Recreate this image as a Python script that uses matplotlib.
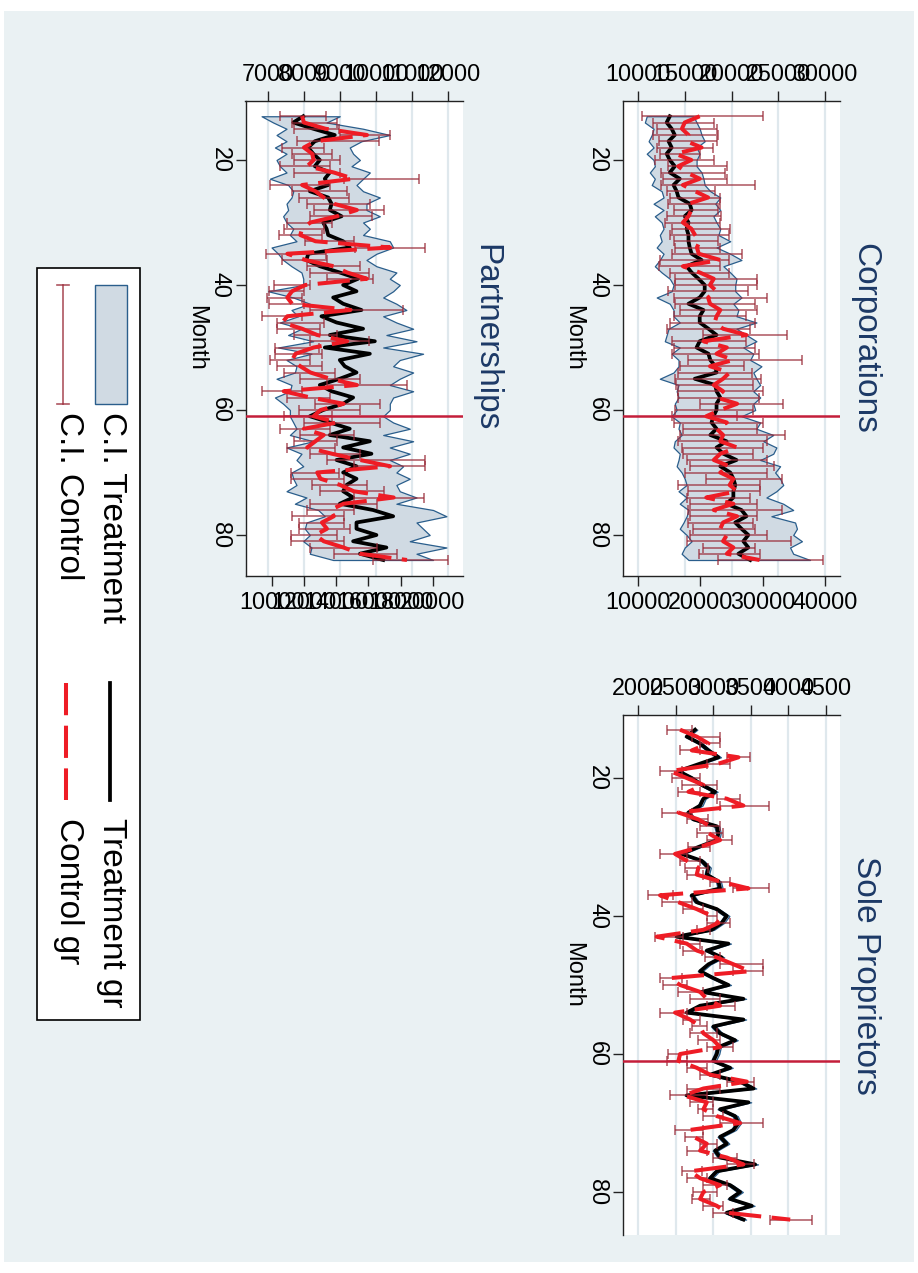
import numpy as np
import matplotlib
matplotlib.use('Agg')
import matplotlib.pyplot as plt
from matplotlib.patches import Rectangle
from matplotlib.lines import Line2D

plt.rcParams['font.family'] = ['Liberation Sans', 'DejaVu Sans']

# ---------------- data ----------------
months = list(range(13, 85))
month_ticks = [20, 40, 60, 80]
policy_month = 61

# Corporations (treatment on lower axis, control on upper axis), thousands
corp_t_k = [15.1,14.6,15.4,15.9,14.9,15.4,14.6,15.1,15.9,15.1,
            16.7,15.7,16.2,16.5,18.3,18.6,17.5,18.1,17.8,18.1,
            18.1,18.3,18.6,20.2,17.8,18.6,19.7,20.7,20.7,19.9,
            18.1,20.5,19.9,19.9,21.3,22.6,19.9,19.4,21.3,21.6,
            22.4,22.6,19.1,22.4,22.6,23.2,22.6,22.6,22.1,21.8,
            22.6,21.6,24.2,22.6,23.7,25.8,23.2,24.8,25.3,25.6,
            25.3,25.3,24.2,26.6,27.4,25.6,26.6,27.7,26.9,27.7,26.1,28.0]
corp_lo_k = [11.4,11.1,12.5,12.2,11.7,12.5,11.4,12.5,12.7,11.9,
             12.7,12.2,13.8,14.1,12.5,14.1,12.7,13.8,14.1,13.5,
             13.8,13.0,14.1,13.5,12.7,13.8,15.1,15.7,15.4,13.0,
             15.1,15.7,15.7,16.7,14.9,14.6,14.3,16.7,15.4,16.5,
             16.5,15.7,13.5,16.5,16.2,16.5,15.9,16.2,15.4,16.7,
             16.5,17.0,15.9,15.7,16.7,16.5,16.2,17.0,17.5,17.8,
             16.5,17.8,16.7,18.1,17.8,17.3,16.7,17.8,18.6,17.5,17.0,18.1]
corp_hi_k = [18.9,19.4,19.9,20.2,20.7,19.4,19.9,19.4,19.4,20.2,
             20.5,20.7,21.6,23.2,22.4,23.2,22.1,22.6,23.2,22.9,
             24.8,22.6,24.8,26.6,23.7,24.8,25.8,25.6,25.6,26.6,
             25.3,26.1,25.8,29.0,25.8,27.4,29.0,26.9,28.5,28.0,
             29.8,28.5,29.0,29.6,28.5,29.6,28.5,28.8,26.6,29.6,
             29.0,31.7,30.1,32.2,31.7,29.6,32.8,32.0,32.8,33.3,
             32.2,30.6,33.3,34.9,31.4,35.2,35.5,34.9,36.3,34.4,34.9,37.6]
corp_c_k = [16.6,15.0,14.7,15.4,15.2,16.8,14.0,15.7,14.3,15.2,
            16.6,14.8,16.1,17.5,15.4,15.7,15.4,14.8,15.7,16.1,
            16.6,16.3,16.5,18.8,14.8,16.6,18.1,17.7,18.4,17.5,
            17.7,18.8,18.4,18.2,19.1,21.6,17.0,19.5,18.4,20.2,
            17.7,19.8,19.1,18.1,19.1,18.4,20.6,18.8,17.3,19.5,
            18.4,19.1,18.8,20.6,18.8,18.1,19.8,18.8,20.2,19.8,
            20.6,17.3,20.2,18.1,20.6,19.1,18.8,19.5,19.1,20.2,19.5,23.0]
corp_clo_k = [10.4,11.6,12.0,11.6,12.2,12.0,12.4,11.8,13.2,12.5,
              12.7,12.5,13.1,13.4,13.2,13.8,13.1,12.9,13.6,13.4,
              13.8,14.0,13.6,12.4,12.2,13.4,14.0,14.0,13.2,13.8,
              14.0,14.5,13.8,13.4,13.1,17.0,13.6,13.8,13.6,15.4,
              14.5,14.3,14.0,14.1,14.3,14.3,16.6,14.0,13.6,13.8,
              14.8,14.5,14.3,14.7,14.8,15.2,15.6,15.0,17.3,14.3,
              15.4,15.2,15.6,15.4,15.6,15.4,15.9,15.6,15.2,17.0,16.5,18.6]
corp_chi_k = [23.4,18.1,18.4,18.6,18.4,18.0,16.6,18.1,19.5,19.3,
              19.5,22.5,18.2,18.8,18.8,18.6,18.9,18.8,19.8,19.7,
              18.6,18.8,21.1,19.7,18.8,19.7,22.7,22.7,21.8,23.8,
              22.5,22.7,21.6,22.5,22.0,25.9,21.6,22.5,22.9,27.5,
              21.3,22.2,23.2,22.3,23.4,22.9,25.5,22.3,20.6,23.4,
              22.7,25.7,23.8,23.4,22.3,23.8,24.5,23.8,25.4,23.0,
              23.0,22.0,22.7,25.4,22.7,22.3,22.5,23.8,26.4,22.5,23.0,29.8]

# Partnerships, thousands
pt_t_k = [11.95,11.33,12.57,13.91,12.67,12.26,12.57,12.98,12.67,13.60,
          13.29,13.50,12.36,13.50,13.71,13.60,14.33,13.19,13.40,13.50,
          14.43,14.84,12.26,12.15,12.98,14.22,15.36,14.43,15.26,13.81,
          14.43,15.57,13.08,14.02,15.67,13.60,16.40,13.29,16.09,14.22,
          14.53,15.26,14.22,12.98,13.71,15.05,14.43,13.19,12.36,13.60,
          14.84,13.60,16.09,14.43,16.19,14.02,15.26,14.43,15.26,14.64,
          14.43,15.05,14.22,16.29,17.54,15.26,15.26,16.50,15.05,17.12,15.47,16.92]
pt_lo_k = [9.36,10.08,10.91,10.29,10.91,10.19,10.91,10.29,10.50,10.91,
           9.88,11.01,11.33,11.22,10.91,11.01,10.70,10.91,11.33,11.12,
           11.53,9.98,10.39,10.70,11.22,11.84,11.95,11.95,9.77,11.33,
           12.36,11.22,11.64,10.50,11.84,11.01,12.57,10.39,12.46,10.91,
           11.53,11.43,10.29,11.22,11.12,10.19,10.70,11.12,11.12,11.33,
           11.53,11.12,12.57,10.91,11.84,11.53,11.95,11.22,11.33,11.53,
           10.91,12.15,11.43,12.88,13.29,12.15,12.05,12.36,11.95,12.46,12.36,13.81]
pt_hi_k = [14.22,13.40,15.67,17.33,15.57,14.84,15.05,15.47,14.95,16.09,
           15.67,15.26,15.67,16.71,15.88,15.88,16.71,15.67,16.09,15.67,
           17.33,17.54,16.50,15.88,16.50,17.74,17.33,17.95,17.54,16.92,
           17.74,18.36,16.92,17.74,18.78,17.12,18.99,16.92,19.40,17.95,
           17.54,18.78,17.95,17.33,18.78,17.54,17.33,17.33,16.92,17.54,
           18.57,16.92,18.78,17.33,18.57,17.33,18.16,17.74,18.57,17.74,
           17.95,18.99,17.74,20.02,20.85,18.99,19.40,19.81,18.57,20.85,18.99,20.02]
pt_c_k = [7.95,8.00,8.60,9.75,8.32,8.00,8.23,8.27,8.09,8.83,
          9.38,7.95,8.32,8.55,8.83,9.47,8.92,8.18,7.95,7.90,
          8.32,10.39,7.54,8.04,8.83,9.20,9.75,8.04,7.67,7.54,
          7.67,9.29,7.54,7.40,7.95,8.37,9.20,8.27,7.77,7.67,
          7.90,8.18,8.73,9.47,7.44,8.18,9.10,8.46,8.27,8.92,
          8.00,8.55,8.32,8.09,8.78,9.56,10.39,8.37,8.46,9.01,
          9.38,10.49,9.10,8.73,8.83,8.50,8.64,8.32,8.55,9.10,9.56,10.86]
pt_clo_k = [7.35,7.67,7.72,9.01,7.81,7.40,7.67,7.72,7.35,7.72,
            9.10,7.07,7.67,7.86,8.09,8.27,8.18,7.54,7.44,7.30,
            8.04,9.43,6.94,7.40,8.09,8.18,8.64,7.17,7.03,6.98,
            7.03,8.18,6.84,7.26,7.26,7.72,8.18,7.21,7.21,7.07,
            7.26,7.44,7.90,8.64,6.84,7.54,8.32,7.86,7.44,8.00,
            7.35,7.90,7.72,7.54,8.18,8.64,9.38,7.63,7.63,8.23,
            8.46,9.38,8.18,8.09,7.67,7.86,7.86,7.63,7.63,8.18,8.83,9.93]
pt_chi_k = [8.60,8.92,8.96,10.39,10.07,8.55,8.78,9.01,8.73,9.01,
            11.18,8.73,9.20,9.24,9.84,10.21,9.89,8.78,8.55,8.50,
            9.38,11.36,8.60,8.64,9.56,9.80,9.93,8.18,8.00,7.95,
            8.00,10.76,7.95,8.55,8.46,8.92,9.80,8.41,8.50,8.18,
            8.50,8.87,9.56,10.86,7.95,8.73,10.12,9.56,8.78,10.12,
            8.73,9.38,8.92,8.87,9.56,11.36,11.36,8.96,9.10,9.75,
            10.21,11.32,10.03,9.38,9.10,9.10,9.29,8.92,9.10,10.03,10.58,12.01]

# Sole proprietors (single axis)
so_t = [2760,2649,2827,2938,3071,2804,2538,2716,2849,3027,
        2871,2827,2671,2738,3049,3071,3049,2804,2582,2849,
        2938,2916,3071,3093,2716,2782,3049,3182,3115,2982,
        2516,3204,2916,3115,2938,2827,3004,3204,2849,3404,
        2827,2649,3404,3004,3093,3293,3071,3049,3004,3227,
        2960,3360,3538,2649,3471,3093,3293,3338,3271,3093,
        3182,3027,3093,3560,3049,2960,3227,3360,3227,3515,3182,3404]
so_ci = [30,28,32,30,34,30,28,30,31,33,
         30,32,29,30,34,31,33,30,28,31,
         32,30,33,34,29,30,33,35,32,31,
         28,34,31,33,30,31,32,34,30,36,
         31,29,36,32,33,35,32,33,32,34,
         31,35,37,29,36,33,35,35,34,33,
         34,32,33,38,32,31,34,36,34,37,34,36]
so_c = [2560,2782,2938,2716,3338,3049,2427,2649,2871,2671,
        3182,3404,2538,2804,2960,2938,3093,2827,2493,2649,
        2804,2782,3093,3471,2293,2538,2782,2982,3071,2871,
        2249,2649,2782,3049,3271,3493,2427,2560,2827,2916,
        3093,2493,2693,2827,2871,3004,3093,2560,2538,2782,
        2960,3449,2871,2604,2916,2871,3049,3360,2693,2738,
        2916,2827,3182,3404,2693,2827,3093,2871,2827,3049,3182,4027]
so_clo = [2382,2716,2827,2560,3182,2916,2293,2449,2582,2538,
          3049,3093,2316,2649,2827,2782,2916,2671,2293,2560,
          2627,2649,2960,3271,2138,2316,2604,2916,2916,2782,
          2227,2560,2604,2893,3093,3271,2293,2338,2538,2693,
          2916,2293,2604,2716,2693,2804,2916,2404,2382,2649,
          2827,3182,2649,2427,2693,2804,2871,3093,2493,2627,
          2827,2649,3004,3182,2582,2649,2871,2738,2716,2871,3004,3760]
so_chi = [2716,3093,3093,2827,3493,3227,2582,2827,3049,2827,
          3360,3738,2716,2938,3093,3138,3249,2960,2649,2827,
          2938,2871,3227,3738,2471,2716,2871,3049,3227,2960,
          2604,2827,2849,3093,3671,3671,2582,2650,2871,3093,
          3293,2649,2827,2916,3049,3093,3271,2649,2649,2916,
          3093,3538,3093,2916,3004,3004,3138,3671,2871,2871,
          3049,2916,3316,3538,2849,2916,3182,3049,2960,3138,3271,4316]

corp_top_ticks = [10000, 15000, 20000, 25000, 30000]
corp_bot_ticks = [10000, 20000, 30000, 40000]
pt_top_ticks = [7000, 8000, 9000, 10000, 11000, 12000]
pt_bot_ticks = [10000, 12000, 14000, 16000, 18000, 20000]
so_top_ticks = [2000, 2500, 3000, 3500, 4000, 4500]

titles = ['Corporations', 'Partnerships', 'Sole Proprietors']
legend_labels = ['C.I. Treatment', 'Treatment gr', 'C.I. Control', 'Control gr']
axis_label = 'Month'

# ---------------- style ----------------
BG = '#EAF1F3'
BAND = '#D0DAE3'
BAND_EDGE = '#2A5E8C'
ERR = '#9A2A38'
RED = '#EE1C25'
XLINE = '#C41E3A'
TITLE_C = '#1C3966'
GRID = '#DFE8ED'
SPINE = '#222222'
TICK_FS = 16.8
DASH = (0, (8, 2.6))

W, H = 918, 1273
fig = plt.figure(figsize=(W / 100, H / 100), dpi=100)
fig.patch.set_facecolor('white')
fig.add_artist(Rectangle((4 / W, 1 - 1262 / H), 910 / W, 1251 / H,
                         transform=fig.transFigure, facecolor=BG,
                         edgecolor='none', zorder=-5))


def px_axes(x0, y0, x1, y1):
    return fig.add_axes([x0 / W, 1 - y1 / H, (x1 - x0) / W, (y1 - y0) / H])


def k(arr):
    return np.asarray(arr, dtype=float) * 1000.0


def panel(rect, t, lo, hi, c, clo, chi, top_lim, top_ticks, mlim,
          bot_lim=None, bot_ticks=None):
    m = np.asarray(months)
    t, lo, hi = map(np.asarray, (t, lo, hi))
    c, clo, chi = map(np.asarray, (c, clo, chi))
    base = px_axes(*rect)
    base.set_facecolor('white')
    if bot_lim is not None:
        ax_t = base.twiny()
        ax_c = base.twiny()
    else:
        ax_t = base
        ax_c = base
    base.set_ylim(mlim)

    # treatment
    ax_t.fill_betweenx(m, lo, hi, facecolor=BAND, edgecolor=BAND_EDGE,
                       linewidth=0.9, zorder=2)
    ax_t.plot(t, m, color='black', lw=2.7, zorder=3)
    # control
    ax_c.errorbar(c, m, xerr=[c - clo, chi - c], fmt='none', ecolor=ERR,
                  elinewidth=1.1, capsize=3.6, capthick=1.1, alpha=0.8,
                  zorder=4)
    ax_c.axhline(policy_month, color=XLINE, lw=1.8, zorder=4.5)
    ax_c.plot(c, m, color=RED, lw=2.9, linestyle=DASH, zorder=5)

    # base axis (top scale, grid, month axis)
    base.set_xlim(top_lim)
    base.xaxis.tick_top()
    base.set_xticks(top_ticks)
    base.set_xticklabels([str(v) for v in top_ticks])
    base.tick_params(axis='x', top=True, bottom=False, labeltop=True,
                     labelbottom=False, length=7, width=1, pad=4,
                     labelsize=TICK_FS, color=SPINE, direction='out')
    base.set_yticks(month_ticks)
    base.tick_params(axis='y', left=True, right=False, length=7, width=1,
                     pad=3, labelsize=TICK_FS, color=SPINE, direction='out')
    for lab in base.get_yticklabels():
        lab.set_rotation(270)
        lab.set_va('center')
    base.grid(axis='x', color=GRID, lw=1.6)
    base.grid(axis='y', visible=False)
    base.set_axisbelow(True)
    for s in ['right', 'bottom']:
        base.spines[s].set_visible(False)
    for s in ['left', 'top']:
        base.spines[s].set_color(SPINE)
        base.spines[s].set_linewidth(1.0)

    if bot_lim is not None:
        ax_t.set_xlim(bot_lim)
        ax_t.xaxis.tick_bottom()
        ax_t.set_xticks(bot_ticks)
        ax_t.set_xticklabels([str(v) for v in bot_ticks])
        ax_t.tick_params(axis='x', bottom=True, top=False, labelbottom=True,
                         labeltop=False, length=7, width=1, pad=3.5,
                         labelsize=TICK_FS, color=SPINE, direction='out')
        for s in ['left', 'right', 'top']:
            ax_t.spines[s].set_visible(False)
        ax_t.spines['bottom'].set_color(SPINE)
        ax_t.spines['bottom'].set_linewidth(1.0)
        ax_c.set_xlim(top_lim)
        ax_c.xaxis.set_visible(False)
        for s in ax_c.spines.values():
            s.set_visible(False)
    return base


# Corporations
panel((623, 101, 840, 576), k(corp_t_k), k(corp_lo_k), k(corp_hi_k),
      k(corp_c_k), k(corp_clo_k), k(corp_chi_k),
      (8396, 31604), corp_top_ticks, (86.56, 10.56),
      (7593, 42407), corp_bot_ticks)
# Partnerships
panel((245.5, 101, 462.5, 576), k(pt_t_k), k(pt_lo_k), k(pt_hi_k),
      k(pt_c_k), k(pt_clo_k), k(pt_chi_k),
      (6380, 12400), pt_top_ticks, (86.56, 10.56),
      (8360, 21850), pt_bot_ticks)
# Sole proprietors
so_t_arr = np.asarray(so_t, dtype=float)
so_ci_arr = np.asarray(so_ci, dtype=float)
panel((623, 715, 840, 1235), so_t_arr, so_t_arr - so_ci_arr, so_t_arr + so_ci_arr,
      so_c, so_clo, so_chi,
      (1800, 4690), so_top_ticks, (86.23, 10.87))

# titles & axis labels
for (xc, yc), ttl in zip([(865, 338), (486, 338), (865, 975)], titles):
    fig.text(xc / W, 1 - yc / H, ttl, rotation=270, ha='center', va='center',
             fontsize=24, color=TITLE_C)
for xc, yc in [(573, 338), (196, 338), (573, 975)]:
    fig.text(xc / W, 1 - yc / H, axis_label, rotation=270, ha='center',
             va='center', fontsize=17, color='black')

# legend (drawn manually, rotated like the rest of the chart)
tf = fig.transFigure
fig.add_artist(Rectangle((37 / W, 1 - 1020 / H), 103 / W, 752 / H, transform=tf,
                         facecolor='white', edgecolor='black', lw=1.2, zorder=5))
fig.add_artist(Rectangle((95 / W, 1 - 404 / H), 32 / W, 119 / H, transform=tf,
                         facecolor=BAND, edgecolor=BAND_EDGE, lw=1.0, zorder=6))
fig.add_artist(Line2D([63 / W, 63 / W], [1 - 285 / H, 1 - 404 / H], transform=tf,
                      color=ERR, lw=1.2, alpha=0.8, zorder=6))
for yy in (285, 404):
    fig.add_artist(Line2D([57 / W, 69 / W], [1 - yy / H, 1 - yy / H], transform=tf,
                          color=ERR, lw=1.2, alpha=0.8, zorder=6))
fig.add_artist(Line2D([110 / W, 110 / W], [1 - 683 / H, 1 - 800 / H], transform=tf,
                      color='black', lw=2.7, zorder=6))
fig.add_artist(Line2D([66 / W, 66 / W], [1 - 683 / H, 1 - 800 / H], transform=tf,
                      color=RED, lw=2.9, linestyle=DASH, zorder=6))
for (xc, ytop), lab in zip([(111, 412), (111, 818), (68, 412), (68, 818)],
                           legend_labels):
    fig.text(xc / W, 1 - ytop / H, lab, rotation=270, ha='center', va='top',
             fontsize=24, color='black', zorder=7)

fig.savefig('out.png', dpi=100, facecolor=fig.get_facecolor())
